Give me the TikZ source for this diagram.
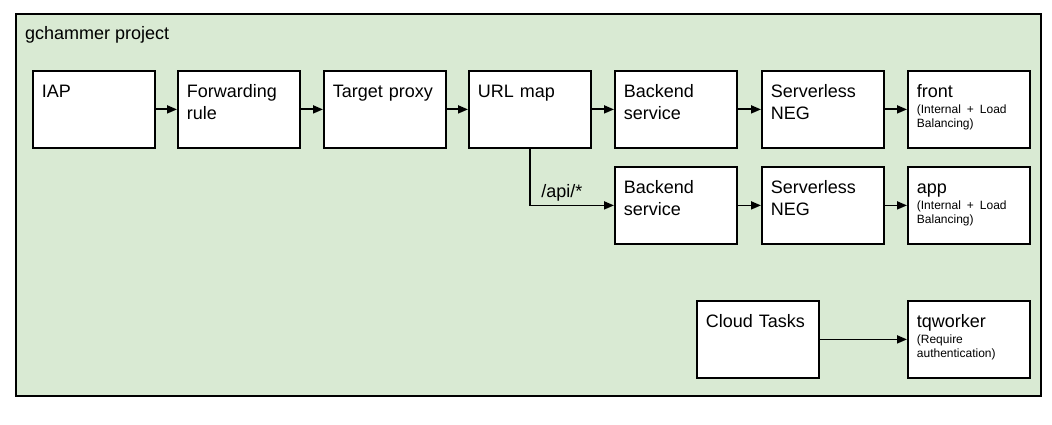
\documentclass[tikz,border=0pt]{standalone}
\usepackage{fontspec}
\setmainfont{Liberation Sans}
\usetikzlibrary{arrows.meta}
\definecolor{projgreen}{RGB}{217,234,211}
\tikzset{
  project/.style={draw=black,line width=1.8pt,fill=projgreen,anchor=north west,minimum width=1025pt,minimum height=382pt,inner sep=0pt},
  svc/.style={draw=black,line width=1.8pt,fill=white,anchor=north west,align=left,text width=104pt,inner xsep=9pt,inner ysep=10pt,text height=17pt,text depth=40pt},
  link/.style={line width=1.8pt,-{Triangle[length=10pt,width=8pt]}},
}
\newcommand{\subnote}[2]{\\[-6pt]{\fontsize{12}{14}\selectfont\begin{tabular}[t]{@{}l@{}}#1\\#2\end{tabular}}}
\begin{document}
\begin{tikzpicture}[yscale=-1,x=1pt,y=1pt,font=\fontsize{18}{22}\selectfont]
\useasboundingbox (0,0) rectangle (1052,425);
\node[project] (PRJ) at (15,13) {};
\node[anchor=base west,inner sep=0pt] (TITLE) at (25,40) {gchammer project};
\node[svc] (IAP) at (32,70) {IAP};
\node[svc] (FWD) at (177,70) {Forwarding\\rule};
\node[svc] (TGT) at (323,70) {Target proxy};
\node[svc] (URL) at (468,70) {URL map};
\node[svc] (BE1) at (614,70) {Backend\\service};
\node[svc] (NEG1) at (761,70) {Serverless\\NEG};
\node[svc] (FRONT) at (907,70) {front\subnote{(Internal + Load}{Balancing)}};
\node[svc] (BE2) at (614,166) {Backend\\service};
\node[svc] (NEG2) at (761,166) {Serverless\\NEG};
\node[svc] (APP) at (907,166) {app\subnote{(Internal + Load}{Balancing)}};
\node[svc] (TASKS) at (696,300) {Cloud Tasks};
\node[svc] (TQW) at (907,300) {tqworker\subnote{(Require}{authentication)}};
\draw[link] (IAP) -- (FWD);
\draw[link] (FWD) -- (TGT);
\draw[link] (TGT) -- (URL);
\draw[link] (URL) -- (BE1);
\draw[link] (BE1) -- (NEG1);
\draw[link] (NEG1) -- (FRONT);
\draw[link] (URL) |- (BE2) node[pos=0.69,above] {/api/*};
\draw[link] (BE2) -- (NEG2);
\draw[link] (NEG2) -- (APP);
\draw[link] (TASKS) -- (TQW);
\end{tikzpicture}
\end{document}
